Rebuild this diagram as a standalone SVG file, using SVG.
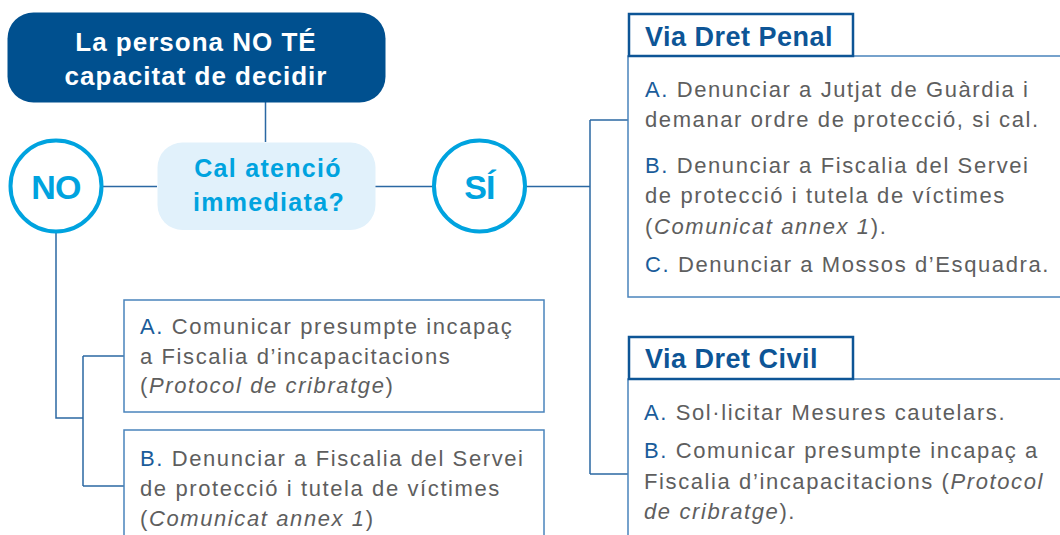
<svg xmlns="http://www.w3.org/2000/svg" width="1060" height="535" viewBox="0 0 1060 535">
<style>
text{font-family:"Liberation Sans",Arial,sans-serif}
.t{fill:#fff;font-weight:bold;font-size:26px;letter-spacing:1px;text-anchor:middle}
.q{fill:#00a3df;font-weight:bold;font-size:25px;letter-spacing:1.3px;text-anchor:middle}
.c{fill:#00a3df;font-weight:bold;font-size:34px;text-anchor:middle;letter-spacing:-0.8px}
.h{fill:#0d5596;font-weight:bold;font-size:27px;letter-spacing:0.5px}
.b{fill:#5e5e5e;font-size:22px;letter-spacing:1.6px}
.k{fill:#1a5c9a}
.i{font-style:italic}
.ln{fill:none;stroke:#2b68a3;stroke-width:1.5}
.box{fill:#fff;stroke:#4a84bc;stroke-width:1.5}
.hd{fill:#fff;stroke:#0d5596;stroke-width:2.5}
.circ{fill:#fff;stroke:#00a3df;stroke-width:4}
</style>
<g id="connectors">
<path class="ln" d="M265.5 102V142M103 186.5H157M374 186.5H434M525 186.5H590M590 120V474M590 120H628M590 474H628M56 233V418H83M83 356V486M83 356H124M83 486H124"/>
</g>
<g id="n-title">
<rect x="7.5" y="12.5" width="378" height="90" rx="26" fill="#00508f"/>
<text class="t" x="196" y="51">La persona NO TÉ</text>
<text class="t" x="196" y="85">capacitat de decidir</text>
</g>
<g id="n-question">
<rect x="157.5" y="142.5" width="218" height="87.5" rx="25" fill="#e1f1fb"/>
<text class="q" x="268" y="177">Cal atenció</text>
<text class="q" x="269" y="211">immediata?</text>
</g>
<g id="n-no">
<circle class="circ" cx="56" cy="186" r="45.5"/>
<text class="c" x="56" y="199">NO</text>
</g>
<g id="n-si">
<circle class="circ" cx="479.5" cy="186" r="45.5"/>
<text class="c" x="479.5" y="199">SÍ</text>
</g>
<g id="n-penal">
<rect class="box" x="628" y="56" width="440" height="241"/>
<rect class="hd" x="629" y="14" width="224" height="42"/>
<text class="h" x="645" y="46">Via Dret Penal</text>
<text class="b" x="645" y="97"><tspan class="k">A.</tspan> Denunciar a Jutjat de Guàrdia i</text>
<text class="b" x="645" y="127">demanar ordre de protecció, si cal.</text>
<text class="b" x="645" y="173"><tspan class="k">B.</tspan> Denunciar a Fiscalia del Servei</text>
<text class="b" x="645" y="203">de protecció i tutela de víctimes</text>
<text class="b" x="645" y="234">(<tspan class="i">Comunicat annex 1</tspan>).</text>
<text class="b" x="645" y="272"><tspan class="k">C.</tspan> Denunciar a Mossos d’Esquadra.</text>
</g>
<g id="n-civil">
<rect class="box" x="628" y="379" width="440" height="170"/>
<rect class="hd" x="629" y="337" width="224" height="42"/>
<text class="h" x="645" y="368">Via Dret Civil</text>
<text class="b" x="644" y="420"><tspan class="k">A.</tspan> Sol·licitar Mesures cautelars.</text>
<text class="b" x="644" y="458"><tspan class="k">B.</tspan> Comunicar presumpte incapaç a</text>
<text class="b" x="644" y="489">Fiscalia d’incapacitacions (<tspan class="i">Protocol</tspan></text>
<text class="b" x="644" y="519"><tspan class="i">de cribratge</tspan>).</text>
</g>
<g id="n-no-a">
<rect class="box" x="124" y="300" width="420" height="112"/>
<text class="b" x="140" y="334"><tspan class="k">A.</tspan> Comunicar presumpte incapaç</text>
<text class="b" x="140" y="364">a Fiscalia d’incapacitacions</text>
<text class="b" x="140" y="393">(<tspan class="i">Protocol de cribratge</tspan>)</text>
</g>
<g id="n-no-b">
<rect class="box" x="124" y="430" width="420" height="120"/>
<text class="b" x="140" y="466"><tspan class="k">B.</tspan> Denunciar a Fiscalia del Servei</text>
<text class="b" x="140" y="496">de protecció i tutela de víctimes</text>
<text class="b" x="140" y="526">(<tspan class="i">Comunicat annex 1</tspan>)</text>
</g>
</svg>
